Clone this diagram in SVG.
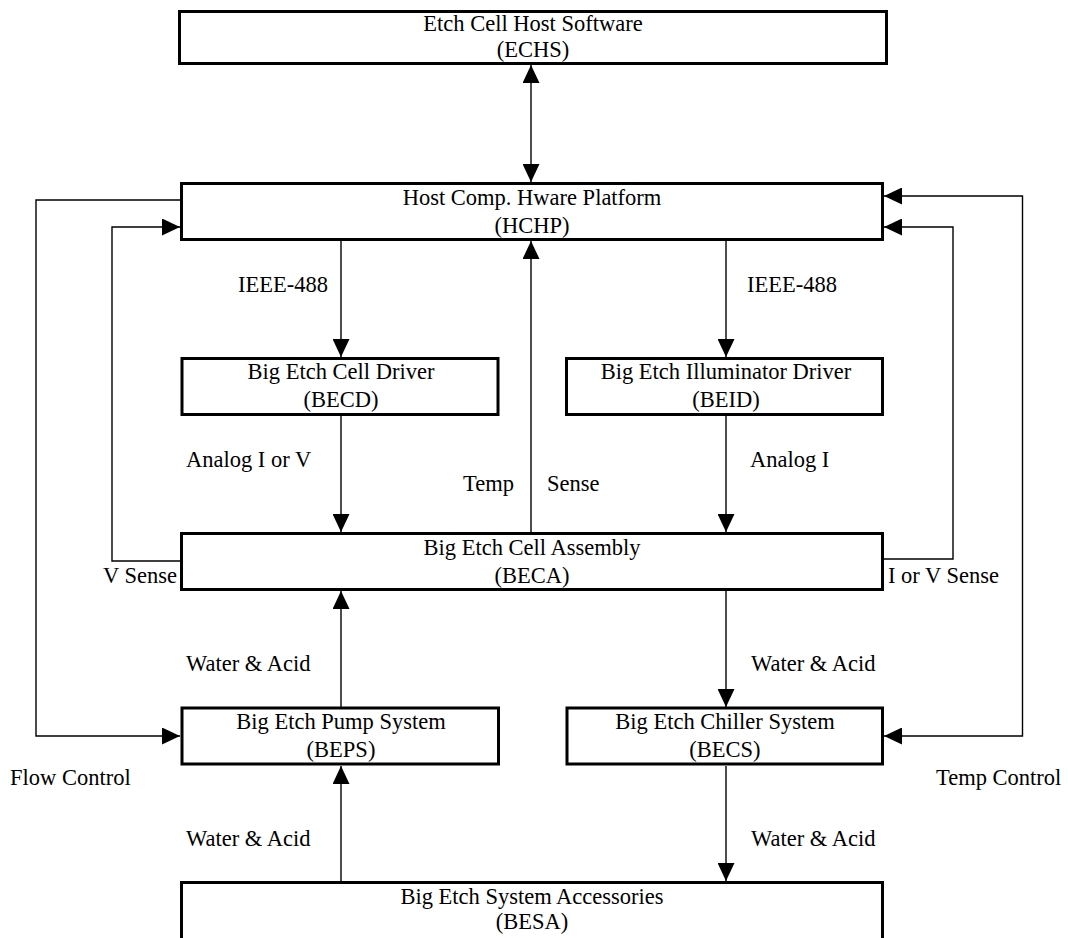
<svg xmlns="http://www.w3.org/2000/svg" width="1068" height="938" viewBox="0 0 1068 938">
<style>
.box{fill:#fff;stroke:#000;stroke-width:3}
.ln{fill:none;stroke:#000;stroke-width:1.4}
text{font-family:"Liberation Serif","Times New Roman",serif;font-size:22.5px;fill:#000}
.c{text-anchor:middle}
.e{text-anchor:end}
</style>
<defs>
<marker id="ah" markerUnits="userSpaceOnUse" markerWidth="18" markerHeight="17" refX="18" refY="8.5" orient="auto-start-reverse">
<path d="M0,0 L18,8.5 L0,17 z" fill="#000"/>
</marker>
</defs>
<rect width="1068" height="938" fill="#fff"/>
<g id="connectors">
<line class="ln" x1="531" y1="65" x2="531" y2="182" marker-start="url(#ah)" marker-end="url(#ah)"/>
<line class="ln" x1="341" y1="241" x2="341" y2="357" marker-end="url(#ah)"/>
<line class="ln" x1="726" y1="241" x2="726" y2="357" marker-end="url(#ah)"/>
<line class="ln" x1="341" y1="416" x2="341" y2="532" marker-end="url(#ah)"/>
<line class="ln" x1="726" y1="416" x2="726" y2="532" marker-end="url(#ah)"/>
<line class="ln" x1="531" y1="532" x2="531" y2="241" marker-end="url(#ah)"/>
<line class="ln" x1="341" y1="707" x2="341" y2="591" marker-end="url(#ah)"/>
<line class="ln" x1="726" y1="591" x2="726" y2="707" marker-end="url(#ah)"/>
<line class="ln" x1="341" y1="881" x2="341" y2="766" marker-end="url(#ah)"/>
<line class="ln" x1="726" y1="766" x2="726" y2="881" marker-end="url(#ah)"/>
<polyline class="ln" points="180,200 36,200 36,736 180,736" marker-end="url(#ah)"/>
<polyline class="ln" points="180,561 112,561 112,227 180,227" marker-end="url(#ah)"/>
<polyline class="ln" points="884,559 953,559 953,227 884,227" marker-end="url(#ah)"/>
<polyline class="ln" points="884,736 1022.5,736 1022.5,196 884,196" marker-start="url(#ah)" marker-end="url(#ah)"/>
<text x="238" y="292">IEEE-488</text>
<text x="747" y="292">IEEE-488</text>
<text x="186" y="467">Analog I or V</text>
<text x="750" y="467">Analog I</text>
<text class="e" x="514" y="491">Temp</text>
<text x="547" y="491">Sense</text>
<text class="e" x="177" y="583">V Sense</text>
<text x="888" y="583">I or V Sense</text>
<text x="186" y="671">Water &amp; Acid</text>
<text x="751" y="671">Water &amp; Acid</text>
<text x="10" y="785">Flow Control</text>
<text x="936" y="785">Temp Control</text>
<text x="186" y="846">Water &amp; Acid</text>
<text x="751" y="846">Water &amp; Acid</text>
</g>
<g id="ECHS">
<rect class="box" x="179.5" y="11.5" width="707" height="52"/>
<text class="c" x="533" y="31">Etch Cell Host Software</text>
<text class="c" x="533" y="57">(ECHS)</text>
</g>
<g id="HCHP">
<rect class="box" x="181.5" y="183.5" width="701" height="56"/>
<text class="c" x="532" y="205">Host Comp. Hware Platform</text>
<text class="c" x="532" y="233">(HCHP)</text>
</g>
<g id="BECD">
<rect class="box" x="182" y="358.5" width="316" height="56"/>
<text class="c" x="341" y="379">Big Etch Cell Driver</text>
<text class="c" x="341" y="407">(BECD)</text>
</g>
<g id="BEID">
<rect class="box" x="566.5" y="358.5" width="316" height="56"/>
<text class="c" x="726" y="379">Big Etch Illuminator Driver</text>
<text class="c" x="726" y="407">(BEID)</text>
</g>
<g id="BECA">
<rect class="box" x="181.5" y="533.5" width="701" height="56"/>
<text class="c" x="532" y="555">Big Etch Cell Assembly</text>
<text class="c" x="532" y="583">(BECA)</text>
</g>
<g id="BEPS">
<rect class="box" x="182" y="708" width="316.5" height="56"/>
<text class="c" x="341" y="729">Big Etch Pump System</text>
<text class="c" x="341" y="757">(BEPS)</text>
</g>
<g id="BECS">
<rect class="box" x="567" y="708" width="315.5" height="56"/>
<text class="c" x="725" y="729">Big Etch Chiller System</text>
<text class="c" x="725" y="757">(BECS)</text>
</g>
<g id="BESA">
<rect class="box" x="181.5" y="882.5" width="701" height="100"/>
<text class="c" x="532" y="904">Big Etch System Accessories</text>
<text class="c" x="532" y="929">(BESA)</text>
</g>
</svg>
